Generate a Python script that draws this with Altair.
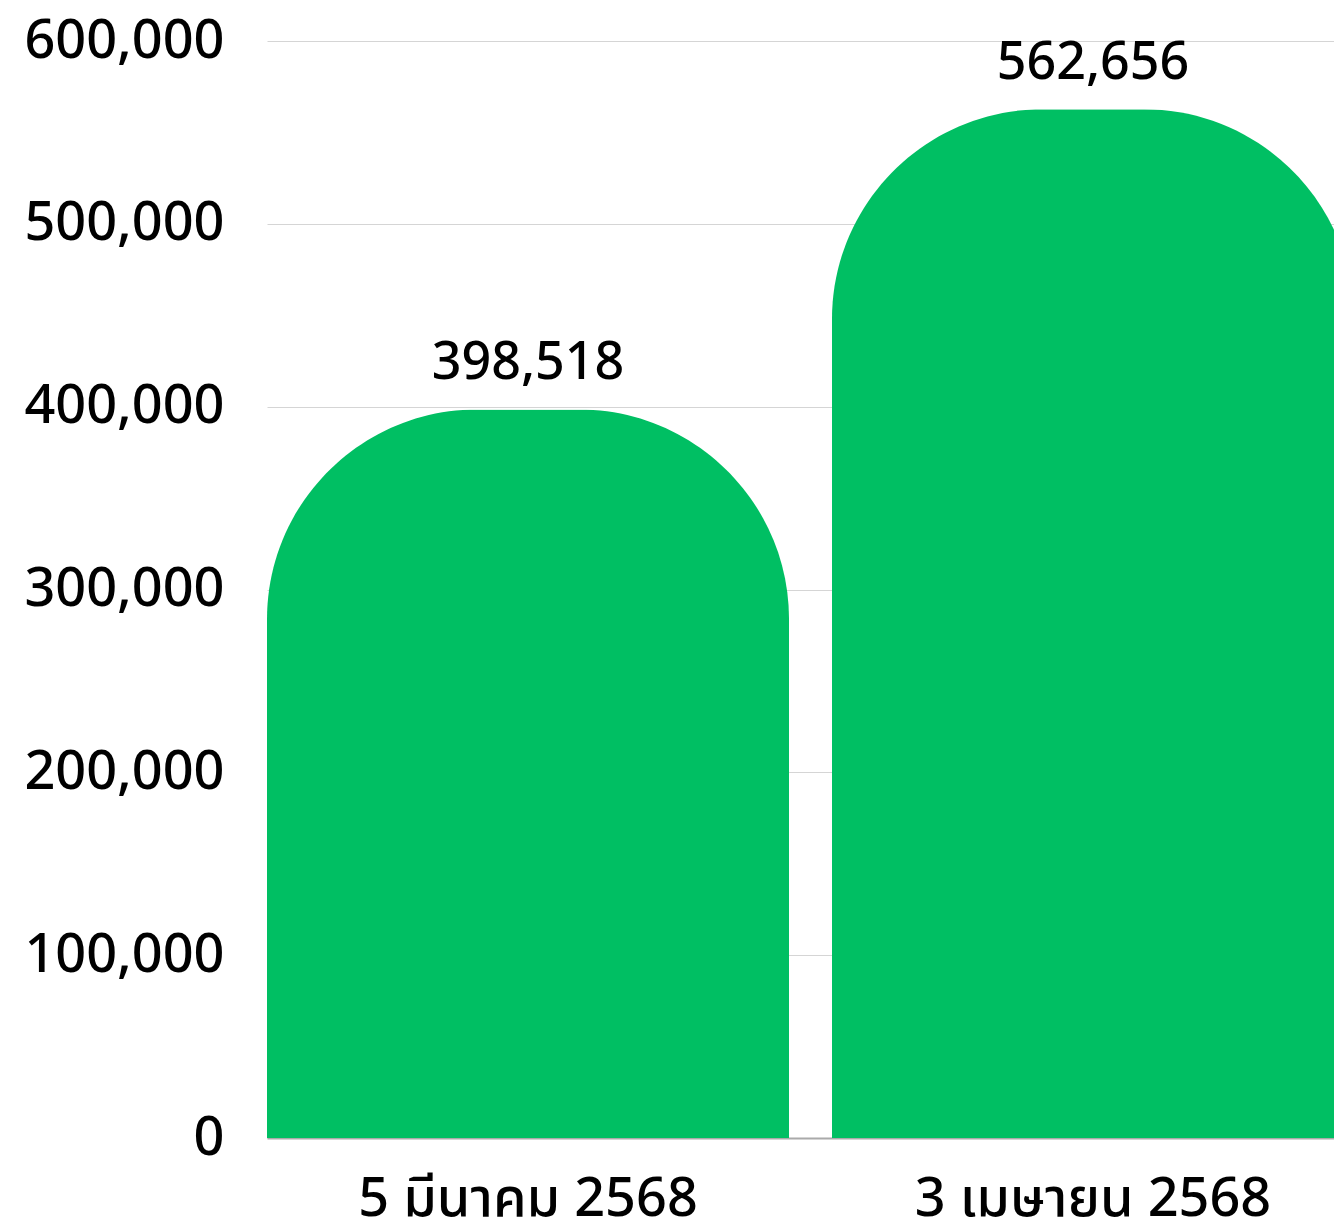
import altair as alt
import pandas as pd

categories = ["5 มีนาคม 2568", "3 เมษายน 2568"]
values = [398518, 562656]
y_ticks = [0, 100000, 200000, 300000, 400000, 500000, 600000]

df = pd.DataFrame({"date": categories, "value": values})

FONT = "Noto Sans, Noto Sans Thai"
GREEN = "#00BF63"

base = alt.Chart(df).encode(
    x=alt.X(
        "date:N",
        sort=categories,
        title=None,
        scale=alt.Scale(paddingInner=0.076, paddingOuter=0, range=[0, 1087]),
        axis=alt.Axis(
            labelAngle=0,
            labelFontSize=54,
            labelFont=FONT,
            labelFontWeight=500,
            labelColor="#000000",
            labelPadding=34,
            labelLimit=0,
            ticks=False,
            domain=True,
            domainColor="#aaaaaa",
            domainWidth=2,
            grid=False,
        ),
    ),
    y=alt.Y(
        "value:Q",
        title=None,
        scale=alt.Scale(domain=[0, 600000], nice=False),
        axis=alt.Axis(
            values=y_ticks,
            format=",d",
            labelFontSize=54,
            labelFont=FONT,
            labelFontWeight=500,
            labelColor="#000000",
            labelPadding=43,
            labelLimit=0,
            ticks=False,
            domain=False,
            grid=True,
            gridColor="#d5d5d5",
            gridWidth=1,
        ),
    ),
)

bars = base.mark_bar(
    color=GREEN,
    cornerRadiusTopLeft=210,
    cornerRadiusTopRight=210,
)

labels = base.mark_text(
    baseline="alphabetic",
    dy=-30,
    fontSize=52,
    font=FONT,
    fontWeight=500,
    color="#000000",
).encode(text=alt.Text("value:Q", format=",d"))

chart = (
    (bars + labels)
    .properties(
        width=1067,
        height=1097,
        background="white",
        autosize=alt.AutoSizeParams(type="none"),
        padding={"left": 259, "top": 33, "right": 0, "bottom": 84},
    )
    .configure_view(stroke="transparent", strokeWidth=0)
)

chart.save("out.html", embed_options={"renderer": "svg", "actions": False})
